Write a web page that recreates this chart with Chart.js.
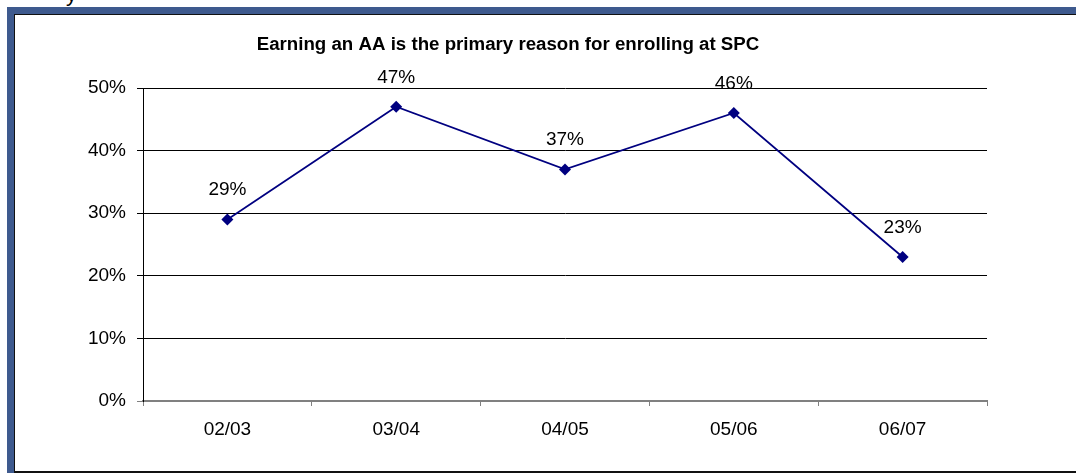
<!DOCTYPE html>
<html>
<head>
<meta charset="utf-8">
<script src="https://cdn.jsdelivr.net/npm/chart.js@4/dist/chart.umd.min.js"></script>
<style>
  html, body { margin: 0; padding: 0; background: #fff; }
  body { width: 1076px; height: 474px; position: relative; overflow: hidden; font-family: "Liberation Sans", Arial, sans-serif; }
  .frame { position: absolute; left: 7px; top: 7px; width: 1080px; height: 466px; background: #3e5a8e; }
  .inner { position: absolute; left: 7px; top: 7px; right: 0; bottom: 0; background: #fff; box-sizing: border-box;
           border-left: 1px solid #111; border-top: 1px solid #111; border-bottom: 2px solid #111; }
  .cut { position: absolute; left: 66px; top: -17px; font-size: 22px; line-height: 22px; color: #000; }
  #chart { position: absolute; left: 0; top: 0; }
</style>
</head>
<body>
<div class="cut">y</div>
<div class="frame"><div class="inner"></div></div>
<canvas id="chart" width="1076" height="474"></canvas>
<script>
// school years and share of students (percent)
const years = ['02/03', '03/04', '04/05', '05/06', '06/07'];
const shares = [29, 47, 37, 46, 23];
const chartTitle = 'Earning an AA is the primary reason for enrolling at SPC';

const FONT = '"Liberation Sans", Arial, sans-serif';

// title and value labels drawn straight on the canvas
const extras = {
  id: 'extras',
  afterDraw(chart) {
    const ctx = chart.ctx;
    ctx.save();
    ctx.fillStyle = '#000';
    ctx.font = 'bold 18.7px ' + FONT;
    ctx.textAlign = 'center';
    ctx.textBaseline = 'alphabetic';
    ctx.fillText(chartTitle, 508, 50);

    ctx.font = '19px ' + FONT;
    const meta = chart.getDatasetMeta(0);
    meta.data.forEach((pt, i) => {
      ctx.fillText(shares[i] + '%', pt.x, pt.y - 24);
    });
    ctx.restore();
  }
};

new Chart(document.getElementById('chart'), {
  type: 'line',
  data: {
    labels: years,
    datasets: [{
      data: shares,
      borderColor: '#000080',
      backgroundColor: '#000080',
      borderWidth: 1.75,
      pointStyle: 'rectRot',
      pointRadius: 6,
      pointHoverRadius: 6,
      pointBorderWidth: 0,
      tension: 0,
      fill: false
    }]
  },
  options: {
    responsive: false,
    animation: false,
    events: [],
    layout: { padding: { top: 88, right: 89, bottom: 23, left: 0 } },
    plugins: { legend: { display: false }, tooltip: { enabled: false } },
    scales: {
      x: {
        offset: true,
        grid: { offset: true, drawOnChartArea: false, drawTicks: true, tickLength: 5, color: '#808080', lineWidth: 1 },
        border: { color: '#808080', width: 2 },
        ticks: { color: '#000', font: { family: FONT, size: 19 }, padding: 12, maxRotation: 0 },
        afterFit(scale) { scale.height = 50; }
      },
      y: {
        min: 0,
        max: 50,
        grid: {
          color: (c) => (c.tick && c.tick.value === 0 ? '#808080' : '#000'),
          lineWidth: 1,
          tickLength: 6
        },
        border: { color: '#000', width: 1 },
        ticks: {
          stepSize: 10,
          color: '#000',
          font: { family: FONT, size: 19 },
          padding: 11,
          callback: (v) => v + '%'
        },
        afterFit(scale) { scale.width = 143; }
      }
    }
  },
  plugins: [extras]
});
</script>
</body>
</html>
